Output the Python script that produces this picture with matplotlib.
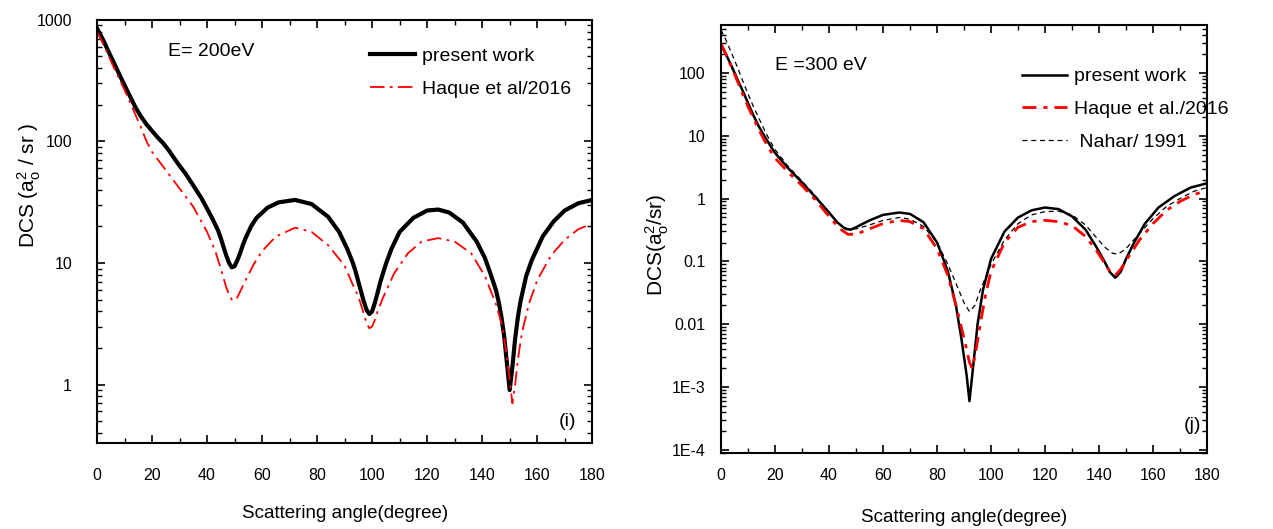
import numpy as np
import matplotlib
matplotlib.use("Agg")
import matplotlib.pyplot as plt
from matplotlib.ticker import FixedLocator, FixedFormatter, LogLocator, NullFormatter, MultipleLocator

plt.rcParams['font.family'] = ['Liberation Sans', 'DejaVu Sans']
plt.rcParams['mathtext.fontset'] = 'custom'
plt.rcParams['mathtext.rm'] = 'Liberation Sans'
plt.rcParams['mathtext.it'] = 'Liberation Sans:italic'

# ---- E = 200 eV (panel i) ----
ang_i_pw = [0, 2, 4, 6, 8, 10, 12, 14, 16, 18, 20, 22, 24, 26, 28, 30, 32, 34, 36, 38, 40, 42,
            44, 45, 46, 47, 48, 49, 50, 51, 52, 53, 54, 56, 58, 62, 66, 72, 78, 84, 88, 91,
            93, 94, 95, 96, 97, 98, 99, 100, 101, 102, 103, 105, 107, 110, 115, 120, 124,
            128, 133, 138, 141, 143, 145, 146, 147, 148, 149, 150, 151, 152, 153, 154, 156,
            158, 162, 166, 170, 175, 180]
dcs_i_pw = [850, 700, 560, 450, 360, 290, 235, 190, 160, 138, 122, 108, 97, 85, 73, 63, 55, 47,
            40, 34, 28, 23, 18.5, 16, 13.5, 11.5, 10, 9.2, 9.4, 10.5, 12, 14, 16, 20, 23.5,
            28.5, 31.5, 33, 30.5, 24, 18, 13, 10, 8.5, 7, 5.8, 4.8, 4.1, 3.8, 4.0, 4.7, 5.7,
            7, 9.8, 13, 18, 23.5, 27, 27.5, 26, 21.5, 15, 11, 8.2, 6, 4.8, 3.6, 2.5, 1.5, 0.9,
            1.4, 2.4, 3.6, 4.9, 7.8, 10.5, 16.5, 22, 27, 31, 33]

ang_i_hq = [0, 2, 4, 6, 8, 10, 12, 14, 16, 18, 20, 25, 30, 35, 40, 43, 45, 46, 47, 48, 49, 50,
            51, 52, 54, 57, 60, 65, 72, 78, 84, 90, 93, 95, 96, 97, 98, 99, 100, 101, 102, 104,
            108, 113, 118, 124, 130, 136, 141, 145, 147, 148, 149, 150, 151, 152, 153, 154,
            155, 157, 160, 165, 170, 175, 180]
dcs_i_hq = [800, 650, 520, 410, 330, 265, 210, 165, 130, 100, 82, 58, 41, 29, 18, 12.5, 9, 7.5,
            6.3, 5.5, 5.0, 4.9, 5.2, 5.8, 7.2, 9.8, 12.5, 16.5, 19.5, 18, 14, 9.5, 6.6, 5.3,
            4.5, 3.8, 3.2, 2.9, 3.0, 3.4, 4.0, 5.2, 8.2, 12, 15, 16, 15, 12, 7.8, 4.6, 3.2,
            2.4, 1.7, 1.1, 0.7, 1.0, 1.6, 2.3, 3.0, 4.6, 7.2, 11.5, 15.5, 19, 21]

# ---- E = 300 eV (panel j) ----
ang_j_pw = [0, 2, 4, 6, 8, 10, 12, 14, 16, 18, 20, 25, 30, 35, 40, 43, 46, 48, 50, 55, 60, 66,
            70, 75, 80, 84, 87, 89, 91, 92, 93, 95, 97, 100, 105, 110, 115, 120, 125, 130, 135,
            139, 142, 144, 146, 148, 150, 153, 157, 162, 168, 174, 180]
dcs_j_pw = [280, 190, 125, 80, 52, 33, 21, 14, 10, 7.2, 5.3, 3.0, 1.8, 1.05, 0.6, 0.42, 0.33,
            0.32, 0.35, 0.45, 0.55, 0.6, 0.57, 0.42, 0.2, 0.07, 0.02, 0.006, 0.0015, 0.0006,
            0.0015, 0.01, 0.035, 0.11, 0.3, 0.5, 0.65, 0.72, 0.68, 0.52, 0.32, 0.17, 0.1,
            0.068, 0.055, 0.068, 0.11, 0.2, 0.4, 0.72, 1.1, 1.5, 1.75]

ang_j_hq = [0, 2, 4, 6, 8, 10, 12, 14, 16, 18, 20, 25, 30, 35, 40, 44, 47, 50, 55, 60, 66, 70,
            75, 80, 84, 87, 90, 92, 93, 94, 96, 98, 100, 105, 110, 115, 120, 125, 130, 135, 139,
            142, 144, 146, 148, 151, 155, 160, 165, 170, 175, 180]
dcs_j_hq = [290, 190, 120, 75, 46, 29, 19, 12.5, 8.5, 6, 4.4, 2.6, 1.6, 0.95, 0.52, 0.33, 0.27,
            0.27, 0.33, 0.4, 0.45, 0.43, 0.33, 0.16, 0.06, 0.02, 0.006, 0.0025, 0.002, 0.003,
            0.01, 0.03, 0.07, 0.2, 0.35, 0.43, 0.45, 0.43, 0.37, 0.25, 0.15, 0.095, 0.07, 0.06,
            0.075, 0.12, 0.22, 0.4, 0.65, 0.9, 1.15, 1.35]

ang_j_nh = [0, 2, 4, 6, 8, 10, 12, 14, 16, 18, 20, 25, 30, 35, 40, 44, 47, 50, 55, 60, 66, 70,
            75, 80, 84, 87, 90, 92, 94, 96, 100, 105, 110, 115, 120, 125, 130, 135, 139, 142,
            145, 147, 150, 155, 160, 165, 170, 175, 180]
dcs_j_nh = [480, 320, 200, 125, 75, 46, 29, 19, 12.5, 8.5, 6, 3.2, 1.9, 1.1, 0.6, 0.38, 0.33,
            0.33, 0.38, 0.45, 0.5, 0.47, 0.36, 0.2, 0.09, 0.045, 0.022, 0.016, 0.02, 0.035,
            0.09, 0.22, 0.4, 0.55, 0.62, 0.63, 0.55, 0.38, 0.24, 0.17, 0.135, 0.13, 0.16, 0.28,
            0.48, 0.75, 1.0, 1.3, 1.5]

yt_i = [1, 10, 100, 1000]
yl_i = ['1', '10', '100', '1000']
yt_j = [1e-4, 1e-3, 1e-2, 0.1, 1, 10, 100]
yl_j = ['1E-4', '1E-3', '0.01', '0.1', '1', '10', '100']

fig = plt.figure(figsize=(12.73, 5.29), dpi=100)
ax1 = fig.add_axes([0.0762, 0.1625, 0.389, 0.8])
ax2 = fig.add_axes([0.5664, 0.1437, 0.3818, 0.809])

# panel i
ax1.plot(ang_i_pw, dcs_i_pw, color='black', lw=3.0, label='present work')
ax1.plot(ang_i_hq, dcs_i_hq, color='red', lw=1.3, ls=(0, (8, 3, 1.5, 3)), label='Haque et al/2016')
ax1.set_yscale('log')
ax1.set_xlim(0, 180)
ax1.set_ylim(0.33, 1000)

# panel j
ax2.plot(ang_j_pw, dcs_j_pw, color='black', lw=1.8, label='present work')
ax2.plot(ang_j_hq, dcs_j_hq, color='red', lw=2.0, ls=(0, (5, 2.5, 1.5, 2.5)), label='Haque et al./2016')
ax2.plot(ang_j_nh, dcs_j_nh, color='black', lw=0.9, ls=(0, (4, 3)), label=' Nahar/ 1991')
ax2.set_yscale('log')
ax2.set_xlim(0, 180)
ax2.set_ylim(9e-5, 575)

for ax, yt, yl, pad in [(ax1, yt_i, yl_i, 18), (ax2, yt_j, yl_j, 11)]:
    ax.xaxis.set_major_locator(MultipleLocator(20))
    ax.xaxis.set_minor_locator(MultipleLocator(10))
    ax.yaxis.set_major_locator(FixedLocator(yt))
    ax.yaxis.set_major_formatter(FixedFormatter(yl))
    ax.yaxis.set_minor_locator(LogLocator(base=10, subs=np.arange(2, 10)))
    ax.yaxis.set_minor_formatter(NullFormatter())
    ax.tick_params(which='both', direction='in', top=True, right=True, labelsize=11.5, pad=pad)
    ax.tick_params(which='major', length=6, width=1.2)
    ax.tick_params(which='minor', length=3.5, width=1.0)
    for s in ax.spines.values():
        s.set_linewidth(1.5)
    ax.set_xlabel('Scattering angle(degree)', fontsize=13.5)
    ax.xaxis.label.set_verticalalignment('center')

ax1.xaxis.set_label_coords(0.5, -0.166)
ax2.xaxis.set_label_coords(0.5, -0.15)

ax1.set_ylabel(r'DCS (a$_{\rm o}^{2}$ / sr )', fontsize=15)
ax1.yaxis.label.set_verticalalignment('center')
ax1.yaxis.set_label_coords(-0.137, 0.61)
ax2.set_ylabel(r'DCS(a$_{\rm o}^{2}$/sr)', fontsize=15)
ax2.yaxis.label.set_verticalalignment('center')
ax2.yaxis.set_label_coords(-0.132, 0.486)

ax1.text(0.143, 0.926, 'E= 200eV', transform=ax1.transAxes, fontsize=14, va='center')
ax2.text(0.111, 0.906, 'E =300 eV', transform=ax2.transAxes, fontsize=14, va='center')
ax1.text(0.95, 0.052, '(i)', transform=ax1.transAxes, fontsize=14, ha='center', va='center')
ax2.text(0.971, 0.065, '(j)', transform=ax2.transAxes, fontsize=14, ha='center', va='center')

ax1.legend(loc='upper left', bbox_to_anchor=(0.552, 0.936), frameon=False, fontsize=14,
           handlelength=2.3, handletextpad=0.36, labelspacing=0.8, borderpad=0, borderaxespad=0)
ax2.legend(loc='upper left', bbox_to_anchor=(0.619, 0.9), frameon=False, fontsize=14,
           handlelength=2.3, handletextpad=0.36, labelspacing=0.78, borderpad=0, borderaxespad=0)

fig.savefig('out.png', dpi=100)
